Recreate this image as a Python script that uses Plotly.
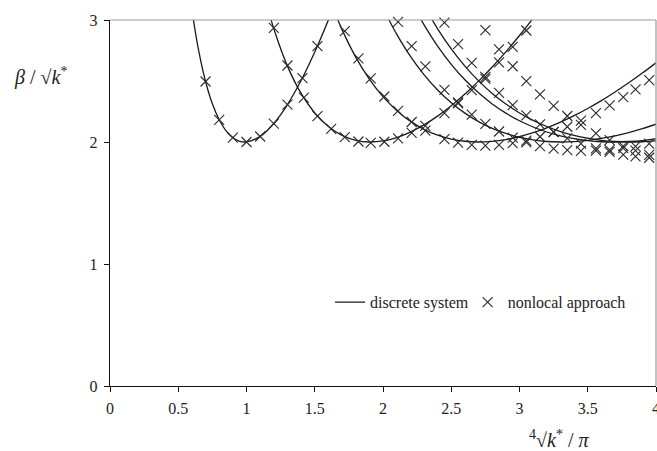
import plotly.graph_objects as go

# ---------------- data ----------------
# discrete system (solid lines), one curve per buckling mode
d1_x = [0.58, 0.60, 0.65, 0.70, 0.75, 0.80, 0.85, 0.90, 0.95, 1.00, 1.10, 1.20, 1.30, 1.40, 1.50, 1.60, 1.62]
d1_y = [3.250, 3.083, 2.746, 2.496, 2.313, 2.182, 2.092, 2.035, 2.006, 2.001, 2.046, 2.152, 2.307, 2.504, 2.737, 3.001, 3.058]

d2_x = [1.15, 1.20, 1.30, 1.40, 1.50, 1.60, 1.70, 1.80, 1.90, 2.00, 2.10, 2.20, 2.30, 2.40, 2.50, 2.60, 2.70, 2.80, 2.90, 3.00, 3.10, 3.15]
d2_y = [3.121, 2.928, 2.622, 2.398, 2.238, 2.127, 2.054, 2.014, 2.000, 2.009, 2.036, 2.081, 2.140, 2.212, 2.297, 2.393, 2.499, 2.615, 2.739, 2.873, 3.014, 3.088]

d3_x = [1.65, 1.70, 1.80, 1.90, 2.00, 2.10, 2.20, 2.30, 2.40, 2.50, 2.60, 2.70, 2.80, 2.90, 3.00, 3.10, 3.20, 3.30, 3.40, 3.50, 3.60, 3.70, 3.80, 3.90, 4.00]
d3_y = [3.053, 2.921, 2.696, 2.516, 2.372, 2.259, 2.171, 2.104, 2.056, 2.024, 2.006, 2.000, 2.005, 2.020, 2.044, 2.076, 2.116, 2.163, 2.216, 2.275, 2.339, 2.410, 2.485, 2.565, 2.649]

d4_x = [2.00, 2.05, 2.10, 2.20, 2.30, 2.40, 2.50, 2.60, 2.70, 2.80, 2.90, 3.00, 3.10, 3.20, 3.30, 3.40, 3.50, 3.60, 3.70, 3.80, 3.90, 4.00]
d4_y = [3.101, 2.988, 2.884, 2.703, 2.552, 2.426, 2.322, 2.237, 2.167, 2.112, 2.070, 2.038, 2.017, 2.004, 2.000, 2.003, 2.013, 2.029, 2.050, 2.077, 2.109, 2.146]

d5_x = [2.25, 2.30, 2.40, 2.50, 2.60, 2.70, 2.80, 2.90, 3.00, 3.10, 3.20, 3.30, 3.40, 3.50, 3.60, 3.70, 3.80, 3.90, 4.00]
d5_y = [3.061, 2.962, 2.786, 2.637, 2.510, 2.403, 2.312, 2.237, 2.174, 2.123, 2.082, 2.050, 2.027, 2.011, 2.002, 2.000, 2.004, 2.012, 2.026]

d6_x = [2.33, 2.40, 2.50, 2.60, 2.70, 2.80, 2.90, 3.00, 3.10, 3.20, 3.30, 3.40, 3.50, 3.60, 3.70, 3.80, 3.90, 4.00]
d6_y = [3.060, 2.928, 2.763, 2.622, 2.501, 2.398, 2.311, 2.238, 2.177, 2.127, 2.086, 2.054, 2.031, 2.014, 2.004, 2.000, 2.002, 2.009]

# nonlocal approach (crosses), one series per mode
n1_x = [0.70, 0.80, 0.90, 1.00, 1.10, 1.20, 1.30, 1.41, 1.52]
n1_y = [2.496, 2.182, 2.035, 2.000, 2.045, 2.151, 2.306, 2.524, 2.785]

n2_x = [1.20, 1.30, 1.42, 1.52, 1.62, 1.72, 1.82, 1.91, 2.01, 2.11, 2.21, 2.31, 2.45, 2.55, 2.65, 2.75, 2.85, 2.95, 3.05]
n2_y = [2.935, 2.627, 2.364, 2.212, 2.108, 2.040, 2.004, 1.993, 2.002, 2.029, 2.074, 2.133, 2.237, 2.325, 2.425, 2.534, 2.652, 2.779, 2.914]

n3_x = [1.72, 1.82, 1.91, 2.01, 2.11, 2.21, 2.31, 2.45, 2.55, 2.65, 2.75, 2.85, 2.95, 3.05, 3.15, 3.25, 3.35, 3.45, 3.56, 3.66, 3.76, 3.85, 3.95]
n3_y = [2.908, 2.685, 2.521, 2.373, 2.256, 2.164, 2.093, 2.024, 1.994, 1.976, 1.971, 1.976, 1.990, 2.012, 2.043, 2.081, 2.125, 2.175, 2.237, 2.300, 2.367, 2.432, 2.508]

n4_x = [2.11, 2.21, 2.31, 2.45, 2.55, 2.65, 2.75, 2.85, 2.95, 3.05, 3.15, 3.25, 3.35, 3.45, 3.56, 3.66, 3.76, 3.85, 3.95]
n4_y = [2.985, 2.786, 2.619, 2.428, 2.317, 2.225, 2.149, 2.086, 2.036, 1.997, 1.967, 1.946, 1.933, 1.928, 1.929, 1.936, 1.949, 1.965, 1.987]

n5_x = [2.45, 2.55, 2.65, 2.75, 2.85, 2.95, 3.05, 3.15, 3.25, 3.35, 3.45, 3.56, 3.66, 3.76, 3.85, 3.95]
n5_y = [2.978, 2.802, 2.649, 2.517, 2.402, 2.303, 2.218, 2.145, 2.083, 2.030, 1.986, 1.947, 1.919, 1.897, 1.882, 1.871]

n6_x = [2.75, 2.85, 2.95, 3.05, 3.15, 3.25, 3.35, 3.45, 3.56, 3.66, 3.76, 3.85, 3.95]
n6_y = [2.917, 2.759, 2.621, 2.499, 2.391, 2.296, 2.213, 2.140, 2.070, 2.015, 1.967, 1.930, 1.895]

x_ticks = [0, 0.5, 1, 1.5, 2, 2.5, 3, 3.5, 4]
x_tick_text = ["0", "0.5", "1", "1.5", "2", "2.5", "3", "3.5", "4"]
y_ticks = [0, 1, 2, 3]
y_tick_text = ["0", "1", "2", "3"]

# ---------------- figure ----------------
FONT = "Liberation Serif, Times New Roman, serif"
LINE_C = "#1a1a1a"
MARK_C = "#2a2a2a"
TXT_C = "#222222"

fig = go.Figure()

discrete = [(d1_x, d1_y), (d2_x, d2_y), (d3_x, d3_y), (d4_x, d4_y), (d5_x, d5_y), (d6_x, d6_y)]
for i, (xs, ys) in enumerate(discrete):
    fig.add_trace(go.Scatter(
        x=xs, y=ys, mode="lines", name="discrete system",
        line=dict(color=LINE_C, width=1.3, shape="spline", smoothing=0.8),
        showlegend=(i == 0), legend="legend",
    ))

nonlocal_sets = [(n1_x, n1_y), (n2_x, n2_y), (n3_x, n3_y), (n4_x, n4_y), (n5_x, n5_y), (n6_x, n6_y)]
for i, (xs, ys) in enumerate(nonlocal_sets):
    fig.add_trace(go.Scatter(
        x=xs, y=ys, mode="markers", name="nonlocal approach",
        marker=dict(symbol="x-thin", size=10, color=MARK_C,
                    line=dict(color=MARK_C, width=1.1)),
        showlegend=(i == 0), legend="legend2", cliponaxis=False,
    ))

axis_common = dict(
    showline=True, linecolor="#111111", linewidth=1.4,
    ticks="outside", ticklen=5, tickcolor="#111111", tickwidth=1.3,
    showgrid=False, zeroline=False, automargin=False,
    tickfont=dict(family=FONT, size=16, color=TXT_C),
    ticklabelstandoff=3, ticklabeloverflow="allow",
)

legend_common = dict(
    orientation="h", y=0.229, xanchor="left", yanchor="middle",
    bgcolor="rgba(0,0,0,0)", borderwidth=0,
    font=dict(family=FONT, size=16, color=TXT_C),
    itemwidth=30,
)

fig.update_layout(
    width=657, height=451,
    margin=dict(l=110, r=1, t=20, b=65, autoexpand=False),
    paper_bgcolor="white", plot_bgcolor="white",
    font=dict(family=FONT, size=16, color=TXT_C),
    xaxis=dict(range=[0, 4], tickvals=x_ticks, ticktext=x_tick_text, **axis_common),
    yaxis=dict(range=[0, 3], tickvals=y_ticks, ticktext=y_tick_text, **axis_common),
    legend=dict(x=0.403, **legend_common),
    legend2=dict(x=0.655, **legend_common),
    shapes=[
        dict(type="line", xref="paper", yref="paper", x0=0, x1=1, y0=1, y1=1,
             line=dict(color="#9a9a9a", width=1.2)),
        dict(type="line", xref="paper", yref="paper", x0=1, x1=1, y0=0, y1=1,
             line=dict(color="#9a9a9a", width=1.2)),
    ],
    annotations=[
        dict(text="<i>β</i> / √<i>k</i><sup>*</sup>", xref="paper", yref="paper",
             x=-0.128, y=0.845, xanchor="center", yanchor="middle", showarrow=False,
             font=dict(family=FONT, size=20, color=TXT_C)),
        dict(text="<sup>4</sup>√<i>k</i><sup>*</sup> / <i>π</i>", xref="paper", yref="paper",
             x=0.823, y=-0.145, xanchor="center", yanchor="middle", showarrow=False,
             font=dict(family=FONT, size=20, color=TXT_C)),
    ],
)

fig.write_html("out.html")
